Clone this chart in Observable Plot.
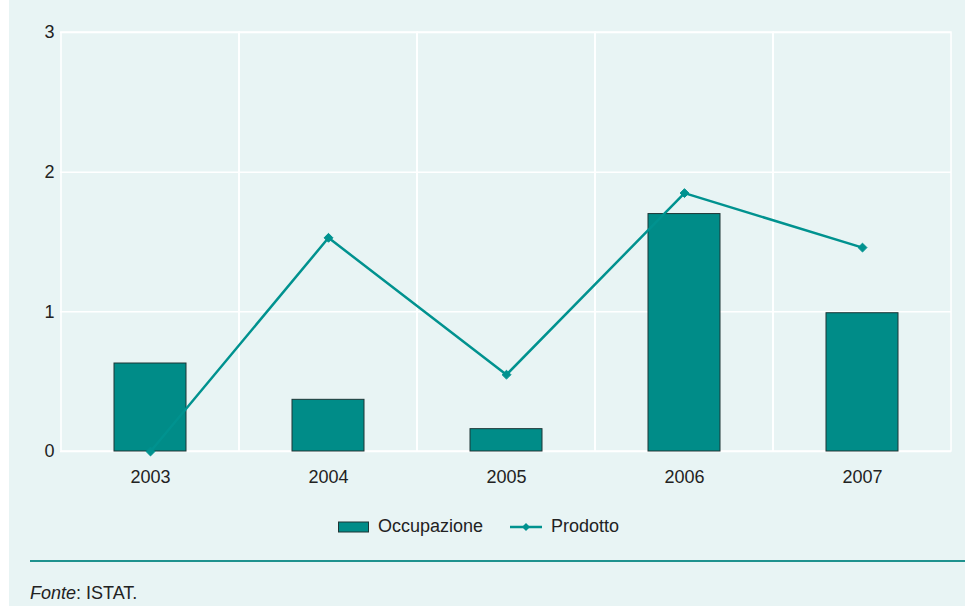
<!DOCTYPE html>
<html>
<head>
<meta charset="utf-8">
<script src="https://cdn.jsdelivr.net/npm/d3@7"></script>
<script src="https://cdn.jsdelivr.net/npm/@observablehq/plot@0.6"></script>
<style>
  body { margin: 0; background: #ffffff; font-family: "Liberation Sans", Arial, sans-serif; }
  #page { position: relative; width: 965px; height: 606px; overflow: hidden; }
  #panel { position: absolute; left: 9px; top: 0; width: 956px; height: 606px; background: #e8f4f4; }
  #chart { position: absolute; left: 0; top: 0; }
  #legend { position: absolute; left: 338px; top: 516px; display: flex; align-items: center; font-size: 18px; color: #222; }
  #legend .item { display: flex; align-items: center; }
  #sep { position: absolute; left: 30px; top: 560px; width: 935px; height: 2px; background: #1f928e; }
  #source { position: absolute; left: 30px; top: 583px; font-size: 18px; color: #222; }
</style>
</head>
<body>
<div id="page">
  <div id="panel"></div>
  <div id="chart"></div>
  <div id="legend"></div>
  <div id="sep"></div>
  <div id="source"><i>Fonte</i>: ISTAT.</div>
</div>
<script>
const years = ["2003", "2004", "2005", "2006", "2007"];
const occupazione = [0.63, 0.37, 0.16, 1.70, 0.99];
const prodotto = [0.00, 1.53, 0.55, 1.85, 1.46];
const yTicks = [0, 1, 2, 3];
const seriesNames = ["Occupazione", "Prodotto"];

const barColor = "#008c88";
const lineColor = "#00928f";

const data = years.map((y, i) => ({year: y, occ: occupazione[i], prod: prodotto[i]}));

const chart = Plot.plot({
  width: 965,
  height: 500,
  marginLeft: 60,
  marginRight: 14,
  marginTop: 32,
  marginBottom: 49,
  style: {background: "transparent", fontFamily: "'Liberation Sans', Arial, sans-serif", fontSize: "18px", color: "#222"},
  x: {domain: years, padding: 0, label: null},
  y: {domain: [0, 3], label: null},
  marks: [
    Plot.ruleY(yTicks, {stroke: "#ffffff", strokeWidth: 1.5}),
    Plot.barY(years, {x: d => d, y1: 0, y2: 3, fill: "none", stroke: "#ffffff", strokeWidth: 1.5}),
    Plot.barY(data, {x: "year", y: "occ", fill: barColor, stroke: "#1d3535", strokeWidth: 1, insetLeft: 53, insetRight: 53}),
    Plot.line(data, {x: "year", y: "prod", stroke: lineColor, strokeWidth: 2.5}),
    Plot.dot(data, {x: "year", y: "prod", symbol: "diamond2", fill: lineColor, stroke: lineColor, strokeWidth: 1, r: 4}),
    Plot.axisX({tickSize: 0, tickPadding: 19, label: null}),
    Plot.axisY({ticks: yTicks, tickSize: 0, tickPadding: 6, label: null, tickFormat: d3.format("d")})
  ]
});
document.getElementById("chart").appendChild(chart);

const legend = document.getElementById("legend");
legend.innerHTML = `
  <div class="item"><svg width="32" height="12"><rect x="0.5" y="1" width="30" height="10" fill="${barColor}" stroke="#1d3535" stroke-width="1"/></svg><span style="margin-left:8px">${seriesNames[0]}</span></div>
  <div class="item" style="margin-left:27px"><svg width="32" height="12"><line x1="0" y1="6" x2="32" y2="6" stroke="${lineColor}" stroke-width="2.5"/><path d="M16,2 L20,6 L16,10 L12,6 Z" fill="${lineColor}"/></svg><span style="margin-left:9px">${seriesNames[1]}</span></div>
`;
</script>
</body>
</html>
